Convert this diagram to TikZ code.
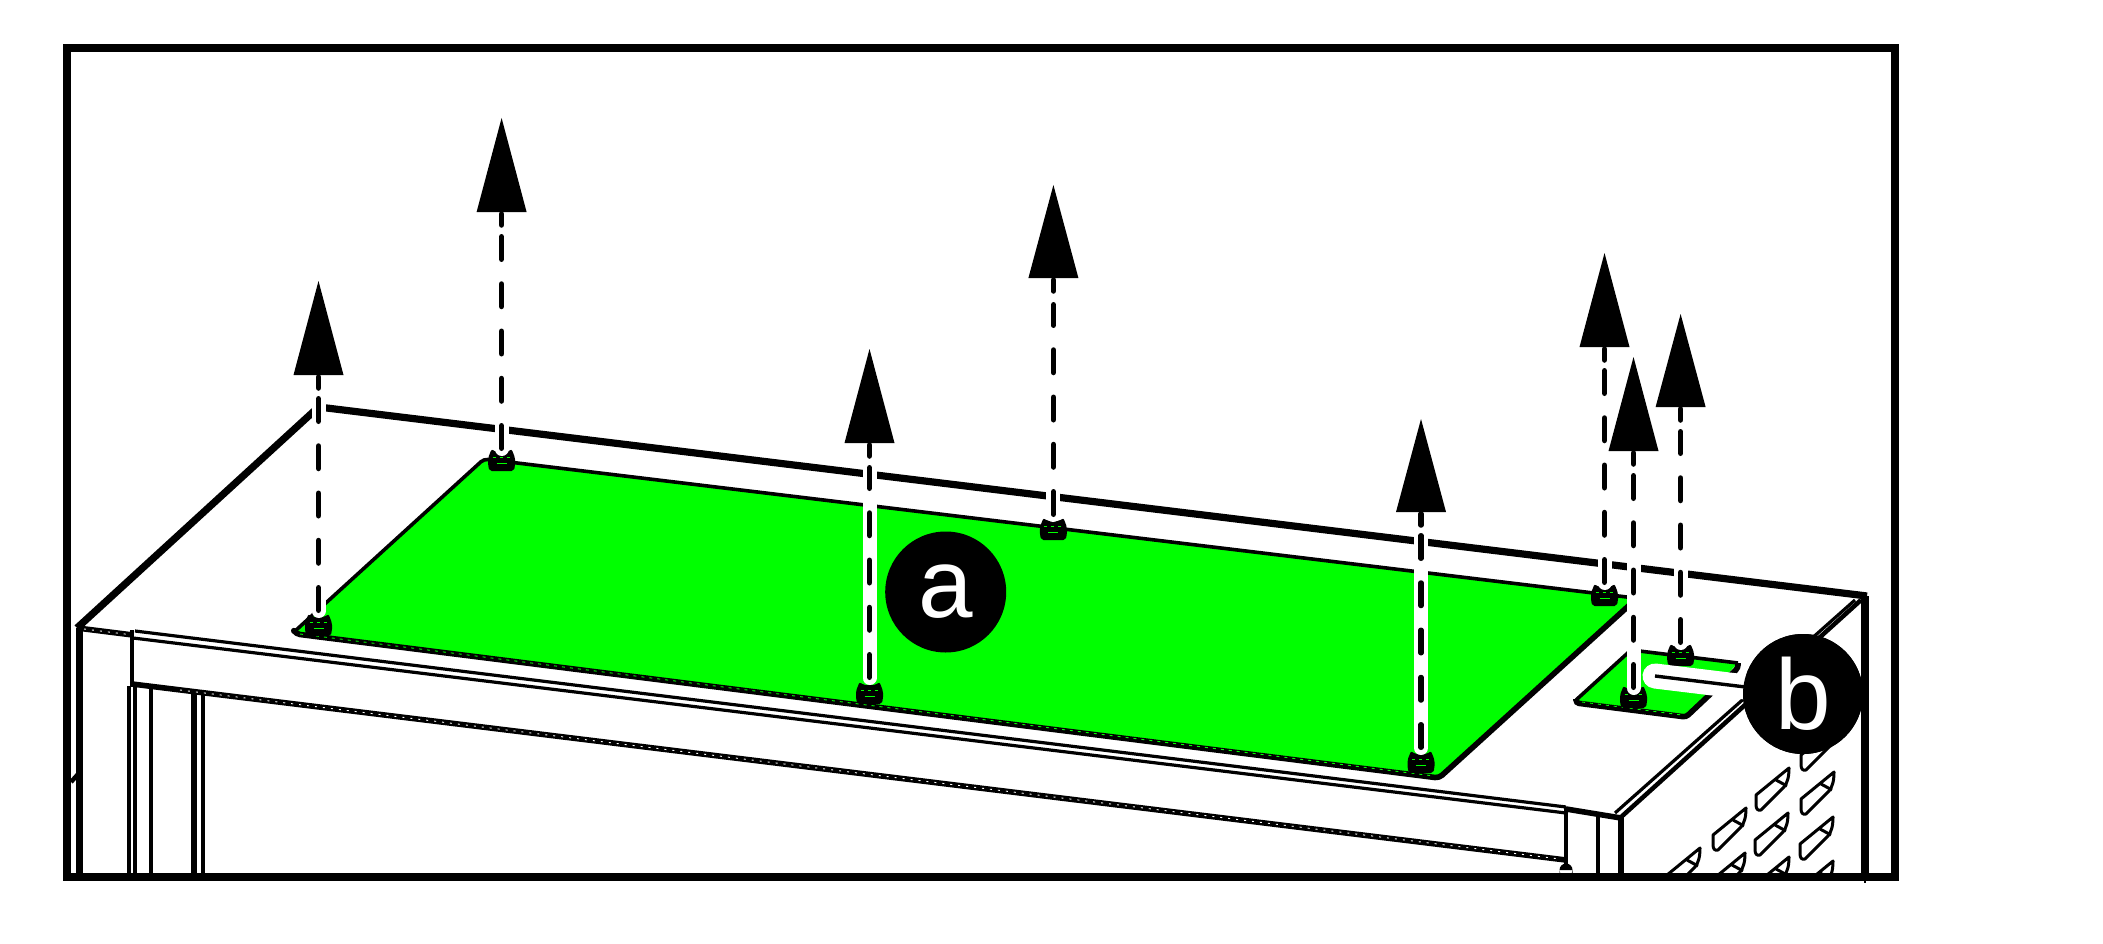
\documentclass[tikz,border=0pt]{standalone}
\usepackage{fontspec}
\setmainfont{Liberation Sans}
\definecolor{panelgreen}{RGB}{0,255,0}
\tikzset{
  thinline/.style={line width=3.2pt,black},
  midline/.style={line width=3.8pt,black},
  thickline/.style={line width=5.6pt,black},
  heavyline/.style={line width=7.2pt,black},
  specksw/.style={line width=0.9pt,white,dash pattern=on 2pt off 6pt},
  specksg/.style={line width=0.9pt,panelgreen,dash pattern=on 3pt off 5pt},
  halo/.style={line width=14pt,white,line cap=round},
  dashline/.style={line width=5.5pt,black,line cap=round,dash pattern=on 22.5pt off 24.75pt},
  stubline/.style={line width=5.5pt,black},
  slotline/.style={line width=3pt,black,line join=round},
  callout/.style={circle,fill=black,text=white,inner sep=0pt,minimum size=120pt}
}
\begin{document}
\begin{tikzpicture}[x=1pt,y=-1pt]
\useasboundingbox (0,0) rectangle (2103,944);
\fill[white] (0,0) rectangle (2103,944);

% cabinet outline
\draw[heavyline,line join=miter] (79.5,877) -- (79.5,628);
\draw[heavyline] (77,628) -- (318.5,407) -- (1867,596);
\draw[line width=7.4pt,black] (1865,596) -- (1865,877);
\draw[line width=2pt,black] (1865,877) -- (1865,883);
\draw[line width=4.5pt,black] (71,782) -- (80,772);
\draw[thickline] (77,628) -- (133,635);
\draw[specksw] (84,629) -- (133,635);
\draw[thinline] (135,631) -- (1566,807);
\draw[thinline] (133,638) -- (1566,813);
\draw[line width=3.4pt,black] (132,630) -- (132,687);
\draw[thickline] (132,684) -- (1566,860);
\draw[specksw] (180,690) -- (1560,859);
\draw[thickline] (1566,809) -- (1621,818);
\draw[line width=3.4pt,black] (129,686) -- (129,877);
\draw[line width=3.4pt,black] (135,686) -- (135,877);
\draw[midline] (151,688) -- (151,877);
\draw[thickline] (194,693) -- (194,877);
\draw[line width=3.4pt,black] (203,694) -- (203,877);
\draw[line width=3.4pt,black] (1566,807) -- (1566,868);
\fill[black] (1566,870) circle (6.5) (1559.5,870) rectangle (1572.5,877);
\draw[line width=3.4pt,black] (1598,812) -- (1598,877);
\draw[thickline] (1621,816) -- (1621,877);
\draw[thinline] (1615,813) -- (1855,600);
\draw[line width=4.5pt,black] (1620,818) -- (1861,600);

% slots in the side wall
\begin{scope}
\clip (1625,600) rectangle (1895,875);
\foreach \tx/\ty in {1834/728,1789/768,1834/772,1746/808,1788/813,1833/817,1700/848,1745/853,1789/857,1833/861}{
  \draw[slotline,fill=white] (\tx,\ty) -- ({\tx-33},{\ty+27}) -- ({\tx-33},{\ty+37})
     .. controls ({\tx-33},{\ty+41}) and ({\tx-31},{\ty+43}) .. ({\tx-28},{\ty+42})
     -- ({\tx-5},{\ty+19}) .. controls ({\tx-2},{\ty+15}) and ({\tx},{\ty+10}) .. cycle;
  \draw[slotline] ({\tx-13},{\ty+12}) -- ({\tx-2},{\ty+18});
}
\end{scope}

% large green panel
\fill[panelgreen,rounded corners=4pt] (484,459) -- (1635,598) -- (1439,778) -- (294,632) -- cycle;
\draw[line width=3.6pt,black,rounded corners=4pt] (294,632) -- (484,459) -- (1635,598);
\draw[thickline,rounded corners=4pt,line join=round] (1635,600) -- (1439,778) -- (296,634) -- (294,631);
\draw[specksg] (300,634) -- (1434,776);

% small green panel
\fill[panelgreen,rounded corners=2pt] (1631,650) -- (1738,663) -- (1686,717) -- (1576,701) -- cycle;
\draw[line width=3.6pt,black] (1576,700) -- (1631,650) -- (1738,663);
\draw[thickline,rounded corners=3pt] (1738,663) -- (1738,668) -- (1686,717) -- (1576,703) -- (1576,699);
\draw[specksg] (1582,702) -- (1682,715);

% bolts
\foreach \x/\y in {318.5/625,501.6/460,869.5/693,1053.4/529,1421/762,1604.5/595,1633.5/697,1680.6/655}{
  \fill[black,rounded corners=2pt] ({\x-13.5},{\y+6}) -- ({\x-13.5},{\y-2}) -- ({\x-10},{\y-11}) -- ({\x-6},{\y-8})
     -- ({\x+6},{\y-8}) -- ({\x+10},{\y-11}) -- ({\x+13.5},{\y-2}) -- ({\x+13.5},{\y+6})
     -- ({\x+12},{\y+11}) -- ({\x-12},{\y+11}) -- cycle;
  \draw[line width=0.9pt,panelgreen] ({\x-5},{\y+3}) -- ({\x+5},{\y+3});
  \draw[line width=0.8pt,panelgreen,dash pattern=on 3pt off 4pt] ({\x-9},{\y-3}) -- ({\x+9},{\y-3});
}

% white halos behind the arrows
\foreach \x/\s/\t/\base in {318.5/613/395/375,501.6/451/233/212,869.5/680/465/443,1053.4/517/302/278,1421/750/533/512,1604.5/585/368/347,1633.5/690/473/451,1680.6/645/429/407}{
  \draw[halo] (\x,{\s-2}) -- (\x,\base);
}

% leader of b: halo first
\node[callout] (b) at (1803,694) {};
\coordinate (bend) at (1655,676);
\draw[line width=25pt,white,line cap=round] (bend) -- (b.center);
\draw[line width=3.4pt,black] (bend) -- (b.center);

% arrows
\foreach \x/\s/\t/\tip/\base in {318.5/613/395/281/375,501.6/451/233/118/212,869.5/680/465/349/443,1053.4/517/302/185/278,1421/750/533/419/512,1604.5/585/368/253/347,1633.5/690/473/357/451,1680.6/645/429/314/407}{
  \draw[dashline] (\x,{\s-2.75}) -- (\x,{\t+2.75});
  \draw[stubline,line cap=round] (\x,{\base+2}) -- (\x,{\base+13});
  \fill[black] (\x,\tip) -- ({\x-25},\base) -- ({\x+25},\base) -- cycle;
}

% callouts
\node[callout,minimum size=121pt] (a) at (945.7,592) {\raisebox{-3.5pt}{\fontsize{98}{98}\selectfont a}};
\node[callout] (blabel) at (1803,694) {\raisebox{-1.5pt}{\fontsize{100}{100}\selectfont b}};

% frame
\draw[line width=8pt,black] (67,48) rectangle (1895,877);
\end{tikzpicture}
\end{document}
